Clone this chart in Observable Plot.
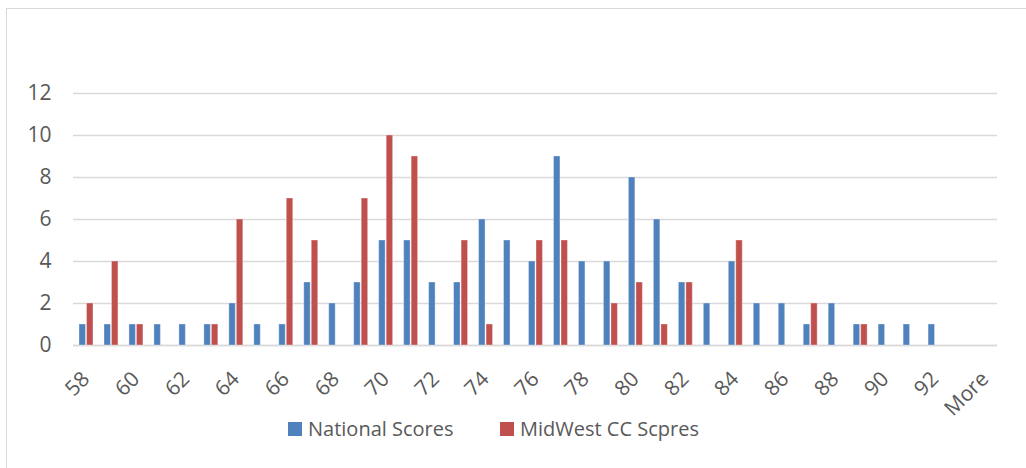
<!DOCTYPE html>
<html>
<head>
<meta charset="utf-8">
<script src="https://cdn.jsdelivr.net/npm/d3@7"></script>
<script src="https://cdn.jsdelivr.net/npm/@observablehq/plot@0.6"></script>
<style>
  html, body { margin: 0; padding: 0; background: #fff; overflow: hidden; }
  body { width: 1026px; height: 468px; position: relative; font-family: "Open Sans", sans-serif; }
  #frame { position: absolute; left: 6px; top: 8px; width: 1040px; height: 480px; border: 1.5px solid #d9d9d9; box-sizing: border-box; }
  #chart { position: absolute; left: 0; top: 0; }
  #chart svg text { font-size: 21px !important; font-family: "Open Sans", sans-serif; fill: #595959; }
  .leg { position: absolute; top: 419px; height: 20px; display: flex; align-items: center; font-size: 20px; line-height: 20px; color: #595959; white-space: nowrap; }
  .leg .sw { width: 14px; height: 14px; margin-right: 6px; flex: none; }
</style>
</head>
<body>
<div id="frame"></div>
<div id="chart"></div>
<div id="legend"></div>
<script>
const categories = ["58","59","60","61","62","63","64","65","66","67","68","69","70","71","72","73","74","75","76","77","78","79","80","81","82","83","84","85","86","87","88","89","90","91","92","93","More"];
const national   = [1,1,1,1,1,1,2,1,1,3,2,3,5,5,3,3,6,5,4,9,4,4,8,6,3,2,4,2,2,1,2,1,1,1,1,0,0];
const midwest    = [2,4,1,0,0,1,6,0,7,5,0,7,10,9,0,5,1,0,5,5,0,2,3,1,3,0,5,0,0,2,0,1,0,0,0,0,0];
const seriesNames = ["National Scores", "MidWest CC Scpres"];
const seriesColors = ["#4F81BD", "#C0504D"];
const xTickLabels = ["58","60","62","64","66","68","70","72","74","76","78","80","82","84","86","88","90","92","More"];
const yTicks = [0, 2, 4, 6, 8, 10, 12];

const natData = categories.map((c, i) => ({cat: c, v: national[i]})).filter(d => d.v > 0);
const midData = categories.map((c, i) => ({cat: c, v: midwest[i]})).filter(d => d.v > 0);

const chart = Plot.plot({
  width: 1026,
  height: 420,
  marginLeft: 73,
  marginRight: 29,
  marginTop: 93,
  marginBottom: 75,
  style: { fontFamily: "'Open Sans', sans-serif", fontSize: "21px", color: "#595959", background: "transparent", overflow: "visible" },
  x: { type: "band", domain: categories, padding: 0, label: null },
  y: { domain: [0, 12], label: null },
  marks: [
    Plot.gridY(yTicks, { stroke: "#d9d9d9", strokeOpacity: 1, strokeWidth: 1.3 }),
    Plot.ruleY([0], { stroke: "#d9d9d9", strokeWidth: 1.5 }),
    Plot.barY(natData, { x: "cat", y: "v", fill: seriesColors[0], insetLeft: 6, insetRight: 12.5, stroke: "#ffffff", strokeOpacity: 0.35, strokeWidth: 1 }),
    Plot.barY(midData, { x: "cat", y: "v", fill: seriesColors[1], insetLeft: 13.5, insetRight: 5, stroke: "#ffffff", strokeOpacity: 0.35, strokeWidth: 1 }),
    Plot.axisY(yTicks, { tickSize: 0, tickPadding: 22, fontSize: 21, fill: "#595959" }),
    Plot.axisX(xTickLabels, { tickSize: 0, tickPadding: 30, tickRotate: -45, fontSize: 21, fill: "#595959" })
  ]
});
document.getElementById("chart").appendChild(chart);

const legend = document.getElementById("legend");
const legendLefts = [288, 500];
seriesNames.forEach((name, i) => {
  const item = document.createElement("div");
  item.className = "leg";
  item.style.left = legendLefts[i] + "px";
  const sw = document.createElement("span");
  sw.className = "sw";
  sw.style.background = seriesColors[i];
  const tx = document.createElement("span");
  tx.textContent = name;
  item.appendChild(sw);
  item.appendChild(tx);
  legend.appendChild(item);
});
</script>
</body>
</html>
